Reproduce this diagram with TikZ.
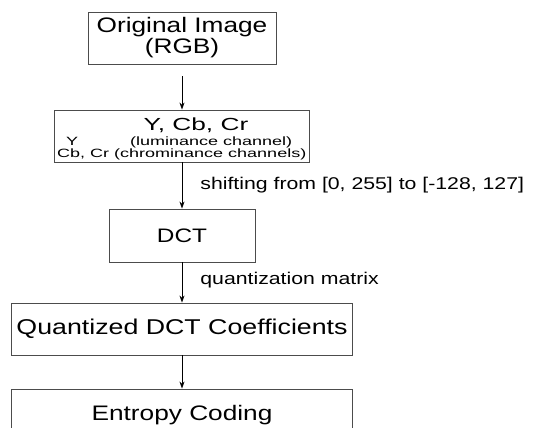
\documentclass[tikz,border=0pt]{standalone}
\usepackage{fontspec}
\setmainfont{Liberation Sans}[FakeStretch=1.25]
\newfontfamily\widesans[FakeStretch=1.5]{Liberation Sans}
\usetikzlibrary{arrows.meta}

\begin{document}
\begin{tikzpicture}[
  x=1pt, y=-1pt,
  >={Stealth[length=7pt,width=5pt]},
  box/.style={draw=black!70, line width=0.9pt, rectangle, align=center, inner sep=0pt},
  tiny/.style={font=\widesans\fontsize{12}{12}\selectfont, anchor=base west, inner sep=0pt},
  lbl/.style={font=\fontsize{17}{20}\selectfont, anchor=west, inner sep=0pt, xshift=18pt}
]
\useasboundingbox (0,0) rectangle (535,428);
\clip (0,0) rectangle (535,428);
\node[box, minimum width=188pt, minimum height=52pt, font=\fontsize{21}{21}\selectfont] (orig) at (182,38) {Original Image\\(RGB)};
\node[box, minimum width=255pt, minimum height=52pt] (ycc) at (182,136) {};
\node[font=\widesans\fontsize{17.5}{18}\selectfont, anchor=base, inner sep=0pt] (ycctitle) at (196,130) {Y, Cb, Cr};
\node[tiny] (ylum) at (66,145) {Y};
\node[tiny] (ylumtxt) at (130,145) {(luminance channel)};
\node[tiny] (cbcr) at (57,157) {Cb, Cr (chrominance channels)};
\node[box, minimum width=146pt, minimum height=53pt, font=\fontsize{19.5}{20}\selectfont] (dct) at (182,235.5) {DCT};
\node[box, minimum width=341pt, minimum height=52pt, font=\fontsize{21.4}{22}\selectfont] (quant) at (182,329) {Quantized DCT Coefficients};
\node[box, minimum width=341pt, minimum height=52pt, font=\fontsize{21}{22}\selectfont] (entropy) at (182,415) {Entropy Coding};
\draw[->, line width=0.8pt, shorten <=12pt] (orig) -- (ycc);
\draw[->, line width=0.8pt] (ycc) -- node[lbl] {shifting from [0, 255] to [-128, 127]} (dct);
\draw[->, line width=0.8pt] (dct) -- node[lbl, yshift=2pt] {quantization matrix} (quant);
\draw[->, line width=0.8pt] (quant) -- (entropy);
\end{tikzpicture}
\end{document}
